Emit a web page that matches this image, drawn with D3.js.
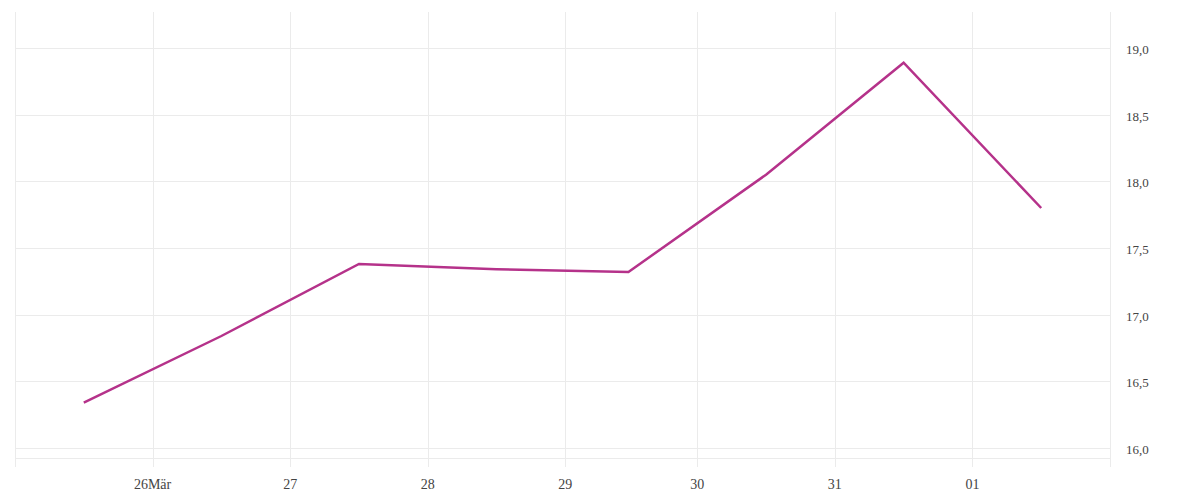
<!DOCTYPE html>
<html>
<head>
<meta charset="utf-8">
<script src="https://cdn.jsdelivr.net/npm/d3@7"></script>
<style>
  html, body { margin: 0; padding: 0; background: #fff; }
  svg text { font-family: "Liberation Serif", "DejaVu Serif", serif; fill: #444; }
</style>
</head>
<body>
<svg id="chart" width="1200" height="500"></svg>
<script>
// Data (local time, Europe; DST starts 29 Mar 2026)
const dates = [
  "2026-03-25T12:00:00+01:00",
  "2026-03-26T12:00:00+01:00",
  "2026-03-27T12:00:00+01:00",
  "2026-03-28T12:00:00+01:00",
  "2026-03-29T12:00:00+02:00",
  "2026-03-30T12:00:00+02:00",
  "2026-03-31T12:00:00+02:00",
  "2026-04-01T12:00:00+02:00"
];
const values = [16.34, 16.84, 17.38, 17.34, 17.32, 18.05, 18.89, 17.80];

const xTickDates = [
  "2026-03-26T00:00:00+01:00",
  "2026-03-27T00:00:00+01:00",
  "2026-03-28T00:00:00+01:00",
  "2026-03-29T00:00:00+01:00",
  "2026-03-30T00:00:00+02:00",
  "2026-03-31T00:00:00+02:00",
  "2026-04-01T00:00:00+02:00"
];
const xTickLabels = ["26Mär", "27", "28", "29", "30", "31", "01"];
const yTicks = [16.0, 16.5, 17.0, 17.5, 18.0, 18.5, 19.0];
const yTickLabels = ["16,0", "16,5", "17,0", "17,5", "18,0", "18,5", "19,0"];

const xDomain = ["2026-03-25T00:00:00+01:00", "2026-04-02T00:00:00+02:00"];

(function () {
const svg = d3.select("#chart");
const mLeft = 15, mRight = 1110, mTop = 12, plotBottom = 458, gridBottom = 467;

const x = d3.scaleUtc()
  .domain(xDomain.map(d => new Date(d)))
  .range([mLeft, mRight]);
const y = d3.scaleLinear()
  .domain([16, 19])
  .range([448, 48]);

const gridColor = "#ebebeb";

// horizontal grid
svg.append("g").selectAll("line")
  .data(yTicks)
  .join("line")
  .attr("x1", mLeft).attr("x2", mRight)
  .attr("y1", d => Math.round(y(d)) + 0.5)
  .attr("y2", d => Math.round(y(d)) + 0.5)
  .attr("stroke", gridColor).attr("stroke-width", 1);

// bottom frame line
svg.append("line")
  .attr("x1", mLeft).attr("x2", mRight)
  .attr("y1", plotBottom + 0.5).attr("y2", plotBottom + 0.5)
  .attr("stroke", gridColor).attr("stroke-width", 1);

// vertical grid + borders
const vLines = [new Date(xDomain[0]), ...xTickDates.map(d => new Date(d)), new Date(xDomain[1])];
svg.append("g").selectAll("line")
  .data(vLines)
  .join("line")
  .attr("x1", d => Math.round(x(d)) + 0.5)
  .attr("x2", d => Math.round(x(d)) + 0.5)
  .attr("y1", mTop).attr("y2", gridBottom)
  .attr("stroke", gridColor).attr("stroke-width", 1);

// x labels
svg.append("g").selectAll("text")
  .data(xTickDates)
  .join("text")
  .attr("x", d => x(new Date(d)))
  .attr("y", 489)
  .attr("text-anchor", "middle")
  .attr("font-size", 14)
  .text((d, i) => xTickLabels[i]);

// y labels
svg.append("g").selectAll("text")
  .data(yTicks)
  .join("text")
  .attr("x", 1126)
  .attr("y", d => y(d) + 6)
  .attr("font-size", 13)
  .text((d, i) => yTickLabels[i]);

// line
const pts = dates.map((d, i) => ({ t: new Date(d), v: values[i] }));
svg.append("path")
  .datum(pts)
  .attr("d", d3.line().x(d => x(d.t)).y(d => y(d.v)))
  .attr("fill", "none")
  .attr("stroke", "#b5328a")
  .attr("stroke-width", 2.5)
  .attr("stroke-linejoin", "miter");
})();
</script>
</body>
</html>
